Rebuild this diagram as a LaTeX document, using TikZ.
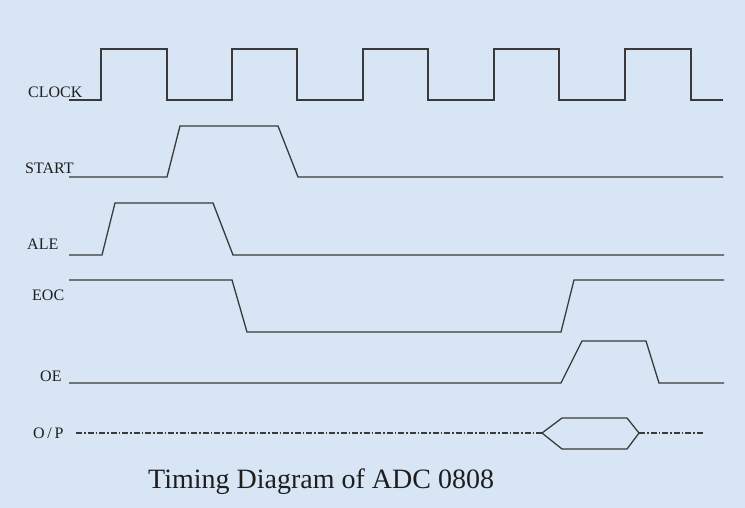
\documentclass[tikz,border=0pt]{standalone}
\usepackage{fontspec}
\setmainfont{Liberation Serif}
\definecolor{bgblue}{HTML}{D7E5F4}
\definecolor{wave}{HTML}{3A3A3A}
\definecolor{txt}{HTML}{1E1E1E}
\begin{document}
\begin{tikzpicture}[x=1pt,y=-1pt,
  sig/.style={draw=wave,line width=1.3pt,line join=miter},
  dashdot/.style={draw=wave,line width=1.2pt,dash pattern=on 6pt off 2pt on 1.5pt off 2pt},
  lbl/.style={anchor=base west,inner sep=0pt,text=txt,font=\fontsize{16}{19}\selectfont},
  ttl/.style={anchor=base west,inner sep=0pt,text=txt,font=\fontsize{28}{33}\selectfont}]
\fill[bgblue] (0,0) rectangle (745,508);
\useasboundingbox (0,0) rectangle (745,508);
% labels
\node[lbl] (clk) at (28,98) {CLOCK};
\node[lbl] (start) at (25,174) {START};
\node[lbl] (ale) at (27,250) {ALE};
\node[lbl] (eoc) at (32,300) {EOC};
\node[lbl] (oe) at (40,381) {OE};
\node[lbl] (op) at (33,438) {O\,/\,P};
\node[ttl] (title) at (148,488) {Timing Diagram of ADC 0808};
% CLOCK
\draw[sig] (69,100) -- (101,100) -- (101,49) -- (167,49) -- (167,100) -- (232,100) -- (232,49)
  -- (297,49) -- (297,100) -- (363,100) -- (363,49) -- (428,49) -- (428,100) -- (494,100)
  -- (494,49) -- (559,49) -- (559,100) -- (625,100) -- (625,49) -- (691,49) -- (691,100) -- (723,100);
% START
\draw[sig] (69,177) -- (167,177) -- (180,126) -- (278,126) -- (298,177) -- (723,177);
% ALE
\draw[sig] (69,255) -- (102,255) -- (115,203) -- (213,203) -- (233,255) -- (724,255);
% EOC
\draw[sig] (69,280) -- (232,280) -- (247,332) -- (561,332) -- (574,280) -- (724,280);
% OE
\draw[sig] (69,383) -- (561,383) -- (582,341) -- (646,341) -- (659,383) -- (724,383);
% O/P
\coordinate (opa) at (76,433);
\coordinate (hl) at (542,433);
\coordinate (hr) at (639,433);
\coordinate (ope) at (703,433);
\draw[dashdot] (opa) -- (hl);
\draw[dashdot] (hr) -- (ope);
\draw[sig] (hl) -- (562,418) -- (627,418) -- (hr) -- (627,449) -- (562,449) -- cycle;
\end{tikzpicture}
\end{document}
